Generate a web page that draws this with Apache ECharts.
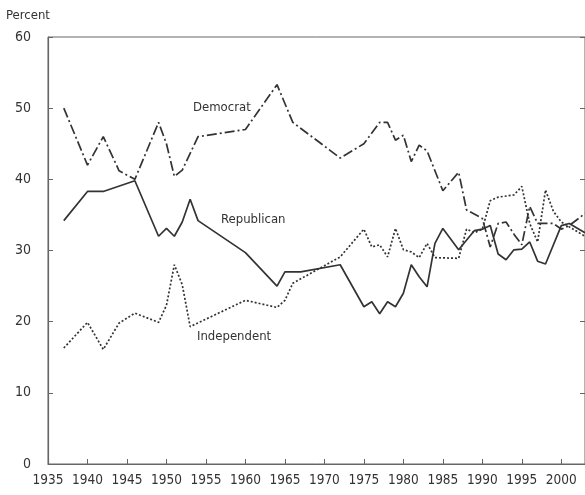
<!DOCTYPE html>
<html>
<head>
<meta charset="utf-8">
<script src="https://cdn.jsdelivr.net/npm/echarts@6/dist/echarts.min.js"></script>
<style>
  html, body { margin: 0; padding: 0; background: #fff; }
  #chart { width: 585px; height: 495px; }
</style>
</head>
<body>
<div id="chart"></div>
<script>
// party identification, percent
const demYears = [1937, 1940, 1942, 1944, 1946, 1949, 1950, 1951, 1952, 1954, 1960, 1964, 1966, 1972, 1975, 1977, 1978, 1979, 1980, 1981, 1982, 1983, 1985, 1987, 1988, 1990, 1991, 1992, 1993, 1994, 1995, 1996, 1997, 1999, 2000, 2001, 2003];
const demValues = [50, 42, 46, 41.2, 40, 48, 45, 40.4, 41.3, 46, 47, 53.3, 48, 43, 45, 48, 48, 45.5, 46.2, 42.5, 44.8, 44, 38.4, 41, 35.7, 34.5, 30.5, 33.8, 34, 32.3, 30.8, 36.2, 33.8, 33.8, 33, 33.5, 35.2];

const repYears = [1937, 1940, 1942, 1946, 1949, 1950, 1951, 1952, 1953, 1954, 1960, 1964, 1965, 1967, 1972, 1975, 1976, 1977, 1978, 1979, 1980, 1981, 1982, 1983, 1984, 1985, 1987, 1989, 1990, 1991, 1992, 1993, 1994, 1995, 1996, 1997, 1998, 2000, 2001, 2003];
const repValues = [34.2, 38.3, 38.3, 39.8, 32, 33.1, 32, 34, 37.2, 34.2, 29.7, 25, 27, 27, 28, 22.1, 22.8, 21.1, 22.8, 22.1, 24, 28, 26.3, 24.9, 31, 33.1, 30.1, 32.8, 33, 33.5, 29.5, 28.7, 30.1, 30.2, 31.2, 28.5, 28.1, 33.5, 33.8, 32.5];

const indYears = [1937, 1940, 1942, 1944, 1946, 1949, 1950, 1951, 1952, 1953, 1960, 1964, 1965, 1966, 1972, 1975, 1976, 1977, 1978, 1979, 1980, 1981, 1982, 1983, 1984, 1987, 1988, 1989, 1990, 1991, 1992, 1994, 1995, 1996, 1997, 1998, 1999, 2000, 2003];
const indValues = [16.3, 19.9, 16.1, 19.8, 21.2, 19.9, 22.3, 28, 25.2, 19.3, 23, 22, 23, 25.4, 29.1, 33, 30.5, 30.8, 29.1, 33.1, 30.1, 29.8, 29, 31, 29, 28.9, 33, 32.5, 33, 37, 37.5, 37.8, 39, 33.8, 31.2, 38.5, 35.5, 34, 32];

const xTicks = [1935, 1940, 1945, 1950, 1955, 1960, 1965, 1970, 1975, 1980, 1985, 1990, 1995, 2000];
const yTicks = [0, 10, 20, 30, 40, 50, 60];

const zip = (xs, ys) => xs.map((x, i) => [x, ys[i]]);

const font = '"Liberation Sans Narrow", "DejaVu Sans Condensed", "Noto Sans", sans-serif';
const ink = '#333';
const axisGray = '#666';

const chart = echarts.init(document.getElementById('chart'));
chart.setOption({
  animation: false,
  backgroundColor: '#fff',
  textStyle: { fontFamily: font },
  grid: {
    left: 48, right: 0, top: 37, bottom: 31,
    show: true, borderColor: axisGray, borderWidth: 1
  },
  xAxis: {
    type: 'value',
    min: 1935, max: 2003, interval: 5,
    axisLine: { show: true, lineStyle: { color: axisGray, width: 1.2 } },
    axisTick: { show: true, inside: true, length: 5, lineStyle: { color: axisGray } },
    axisLabel: {
      color: ink, fontSize: 13.5, fontFamily: font, margin: 9,
      formatter: v => xTicks.includes(v) ? String(v) : '',
      showMaxLabel: false
    },
    splitLine: { show: false }
  },
  yAxis: [{
    type: 'value',
    min: 0, max: 60, interval: 10,
    axisLine: { show: true, lineStyle: { color: axisGray, width: 1.2 } },
    axisTick: { show: true, inside: true, length: 5, lineStyle: { color: axisGray } },
    axisLabel: {
      color: ink, fontSize: 14, fontFamily: font, margin: 17,
      formatter: v => yTicks.includes(v) ? String(v) : ''
    },
    splitLine: { show: false }
  }, {
    type: 'value',
    position: 'right',
    min: 0, max: 60, interval: 10,
    axisLine: { show: true, lineStyle: { color: axisGray } },
    axisTick: { show: true, inside: true, length: 5, lineStyle: { color: axisGray } },
    axisLabel: { show: false },
    splitLine: { show: false }
  }],
  series: [{
    name: 'Democrat',
    type: 'line',
    data: zip(demYears, demValues),
    symbol: 'none',
    lineStyle: { color: ink, width: 1.7, type: [10, 3, 2, 3] }
  }, {
    name: 'Republican',
    type: 'line',
    data: zip(repYears, repValues),
    symbol: 'none',
    lineStyle: { color: ink, width: 1.7, type: 'solid' }
  }, {
    name: 'Independent',
    type: 'line',
    data: zip(indYears, indValues),
    symbol: 'none',
    lineStyle: { color: ink, width: 1.7, type: [2, 2] }
  }],
  graphic: [
    { type: 'text', left: 6, top: 9, style: { text: 'Percent', fill: ink, font: '13px ' + font } },
    { type: 'text', left: 193, top: 101, style: { text: 'Democrat', fill: ink, font: '13px ' + font } },
    { type: 'text', left: 221, top: 213, style: { text: 'Republican', fill: ink, font: '13px ' + font } },
    { type: 'text', left: 197, top: 330, style: { text: 'Independent', fill: ink, font: '13px ' + font } }
  ]
});
</script>
</body>
</html>
